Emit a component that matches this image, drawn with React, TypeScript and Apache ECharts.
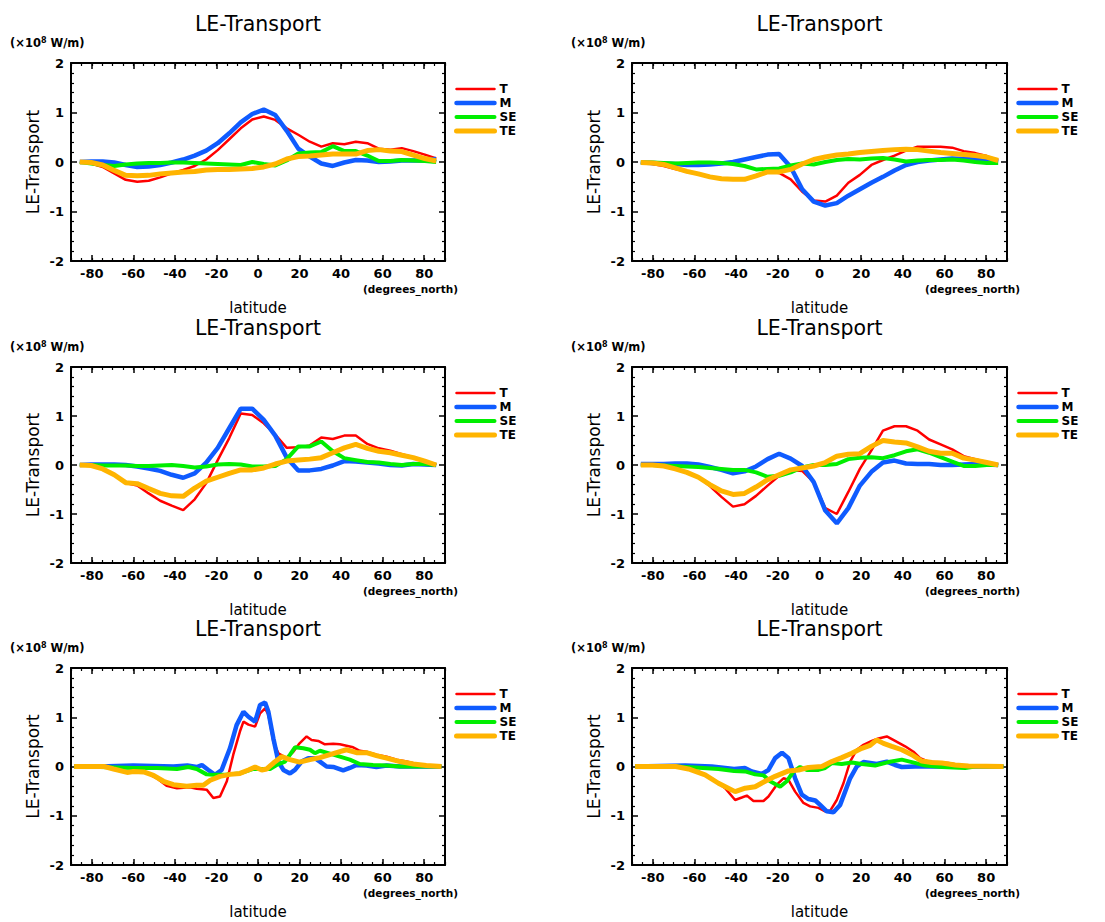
import React, { useEffect, useRef } from "react";
import * as echarts from "echarts";

// ---------- data ----------
const seriesNames = ["T", "M", "SE", "TE"];
const majorLat = [-80, -60, -40, -20, 0, 20, 40, 60, 80];
const titleText = "LE-Transport";

// Gaussian latitudes used by the four coarse panels
const lats = [-85.76, -80.27, -74.74, -69.21, -63.68, -58.14, -52.61, -47.07, -41.53, -36.0, -30.46, -24.92, -19.38, -13.84, -8.31, -2.77, 2.77, 8.31, 13.84, 19.38, 24.92, 30.46, 36.0, 41.53, 47.07, 52.61, 58.14, 63.68, 69.21, 74.74, 80.27, 85.76];

// panel 1 (top left)
const p1T = [0, -0.03, -0.1, -0.23, -0.36, -0.4, -0.38, -0.31, -0.23, -0.16, -0.08, 0.05, 0.24, 0.46, 0.68, 0.86, 0.92, 0.85, 0.68, 0.55, 0.41, 0.31, 0.38, 0.36, 0.41, 0.38, 0.27, 0.25, 0.28, 0.22, 0.15, 0.07];
const p1M = [0, 0.01, 0.01, -0.01, -0.06, -0.1, -0.09, -0.06, -0.01, 0.05, 0.13, 0.23, 0.38, 0.58, 0.8, 0.97, 1.06, 0.95, 0.63, 0.27, 0.11, -0.03, -0.08, -0.01, 0.04, 0.03, 0.0, 0.01, 0.03, 0.03, 0.03, 0.06];
const p1SE = [0, -0.03, -0.06, -0.08, -0.05, -0.03, -0.02, -0.02, -0.01, -0.01, -0.02, -0.03, -0.04, -0.05, -0.06, 0.0, -0.04, -0.07, 0.03, 0.17, 0.19, 0.2, 0.32, 0.22, 0.22, 0.13, 0.02, 0.02, 0.04, 0.03, 0.02, 0.0];
const p1TE = [0, -0.01, -0.06, -0.17, -0.27, -0.28, -0.27, -0.24, -0.22, -0.2, -0.19, -0.16, -0.15, -0.15, -0.14, -0.13, -0.1, -0.04, 0.06, 0.11, 0.12, 0.14, 0.16, 0.16, 0.16, 0.23, 0.25, 0.22, 0.21, 0.14, 0.07, 0.02];

// panel 2 (top right)
const p2T = [-0.01, -0.04, -0.08, -0.14, -0.2, -0.24, -0.3, -0.34, -0.35, -0.34, -0.27, -0.19, -0.22, -0.35, -0.6, -0.78, -0.8, -0.68, -0.42, -0.26, -0.06, 0.04, 0.13, 0.23, 0.31, 0.31, 0.31, 0.29, 0.22, 0.18, 0.12, 0.03];
const p2M = [-0.01, -0.02, -0.03, -0.04, -0.06, -0.06, -0.05, -0.03, 0.0, 0.05, 0.1, 0.15, 0.16, -0.1, -0.55, -0.8, -0.88, -0.83, -0.68, -0.55, -0.42, -0.3, -0.17, -0.06, 0.0, 0.03, 0.05, 0.07, 0.06, 0.05, 0.04, 0.0];
const p2SE = [-0.01, -0.01, -0.02, -0.03, -0.02, -0.01, -0.01, -0.02, -0.04, -0.08, -0.15, -0.14, -0.13, -0.07, -0.03, -0.05, 0.0, 0.04, 0.06, 0.05, 0.07, 0.08, 0.05, 0.01, 0.03, 0.04, 0.04, 0.05, 0.03, 0.0, -0.02, -0.02];
const p2TE = [-0.01, -0.02, -0.05, -0.12, -0.19, -0.24, -0.3, -0.34, -0.35, -0.35, -0.28, -0.2, -0.2, -0.15, -0.04, 0.05, 0.1, 0.14, 0.16, 0.19, 0.21, 0.23, 0.25, 0.26, 0.25, 0.22, 0.19, 0.17, 0.15, 0.13, 0.1, 0.03];

// panel 3 (middle left)
const p3T = [0, -0.02, -0.07, -0.2, -0.37, -0.42, -0.58, -0.73, -0.83, -0.92, -0.7, -0.37, 0.1, 0.55, 1.05, 1.02, 0.85, 0.62, 0.35, 0.36, 0.4, 0.56, 0.53, 0.6, 0.6, 0.43, 0.34, 0.29, 0.22, 0.16, 0.09, 0.0];
const p3M = [0, 0.01, 0.01, 0.01, 0.0, -0.03, -0.07, -0.12, -0.2, -0.26, -0.17, 0.05, 0.35, 0.75, 1.15, 1.15, 0.92, 0.6, 0.15, -0.11, -0.11, -0.08, -0.01, 0.08, 0.07, 0.05, 0.03, 0.0, -0.01, 0.02, 0.01, 0.0];
const p3SE = [0, 0, -0.01, -0.01, -0.01, -0.02, -0.02, -0.01, 0.0, -0.02, -0.05, -0.03, 0.01, 0.02, 0.01, -0.03, -0.03, -0.02, 0.12, 0.38, 0.38, 0.48, 0.28, 0.14, 0.1, 0.06, 0.05, 0.02, 0.0, 0.02, 0.02, 0.0];
const p3TE = [0, -0.01, -0.08, -0.2, -0.36, -0.38, -0.48, -0.58, -0.63, -0.64, -0.47, -0.33, -0.25, -0.17, -0.1, -0.1, -0.06, 0.02, 0.08, 0.1, 0.12, 0.15, 0.25, 0.35, 0.42, 0.34, 0.28, 0.25, 0.2, 0.15, 0.08, 0.0];

// panel 4 (middle right)
const p4T = [0, 0, -0.02, -0.07, -0.15, -0.25, -0.43, -0.65, -0.85, -0.8, -0.63, -0.42, -0.22, -0.1, -0.12, -0.35, -0.88, -1.0, -0.55, -0.08, 0.3, 0.7, 0.79, 0.79, 0.7, 0.52, 0.42, 0.32, 0.18, 0.12, 0.06, 0.0];
const p4M = [0.02, 0.02, 0.02, 0.03, 0.03, 0.01, -0.04, -0.1, -0.17, -0.13, -0.03, 0.12, 0.23, 0.13, -0.02, -0.35, -0.93, -1.19, -0.88, -0.42, -0.14, 0.05, 0.09, 0.03, 0.02, 0.02, 0.0, 0.0, 0.01, 0.02, 0.01, 0.0];
const p4SE = [0, 0, -0.01, -0.02, -0.03, -0.04, -0.06, -0.08, -0.1, -0.1, -0.15, -0.24, -0.22, -0.15, -0.05, 0.0, 0.0, 0.02, 0.12, 0.15, 0.16, 0.14, 0.2, 0.28, 0.32, 0.25, 0.16, 0.07, -0.02, -0.02, 0.0, 0.0];
const p4TE = [0, 0, -0.02, -0.08, -0.15, -0.25, -0.4, -0.53, -0.6, -0.58, -0.45, -0.3, -0.2, -0.1, -0.06, -0.02, 0.05, 0.18, 0.22, 0.23, 0.38, 0.5, 0.47, 0.45, 0.37, 0.28, 0.24, 0.24, 0.14, 0.1, 0.05, 0.0];

// panel 5 (bottom left) [latitude, value]
const p5T = [[-88.5, 0], [-76, 0], [-63, -0.1], [-55, -0.1], [-48.7, -0.24], [-44, -0.39], [-39, -0.44], [-32.7, -0.42], [-29.5, -0.45], [-24.7, -0.47], [-21.5, -0.64], [-18.3, -0.61], [-15, -0.3], [-11.9, 0.24], [-8.7, 0.71], [-7, 0.91], [-4.6, 0.85], [-1.4, 0.81], [1, 1.08], [3.4, 1.18], [5, 1.05], [7.4, 0.5], [9.8, 0.27], [13.8, 0.17], [17, 0.3], [20, 0.47], [23.4, 0.61], [25.8, 0.54], [29, 0.52], [32.2, 0.45], [36.2, 0.46], [39.4, 0.45], [42.6, 0.42], [45.8, 0.39], [49, 0.32], [52.2, 0.3], [57, 0.24], [61.9, 0.2], [66.7, 0.14], [71.5, 0.1], [76.3, 0.05], [81, 0.02], [88.3, 0]];
const p5M = [[-88.5, 0], [-76, 0], [-60, 0.02], [-40.7, 0], [-34, 0.02], [-29.5, -0.01], [-27, 0.03], [-23.9, -0.07], [-20.7, -0.17], [-17.5, -0.07], [-13.5, 0.37], [-10.3, 0.84], [-7, 1.11], [-4.6, 1.01], [-1.4, 0.91], [1, 1.25], [3.4, 1.3], [5, 1.11], [7.4, 0.57], [9.8, 0.1], [12.2, -0.07], [15.4, -0.14], [17.8, -0.07], [21, 0.1], [24.2, 0.17], [27.4, 0.17], [29.8, 0.1], [33, 0.0], [36.2, -0.01], [41, -0.08], [44.2, -0.03], [47.4, 0.03], [52.2, 0.02], [57, -0.01], [61.9, 0.02], [68.3, 0], [88.3, 0]];
const p5SE = [[-88.5, 0], [-76, -0.01], [-60, -0.03], [-48.7, -0.03], [-39, -0.05], [-33.5, -0.01], [-29.5, -0.05], [-24.7, -0.16], [-21.5, -0.17], [-15, -0.16], [-8.7, -0.14], [-2.2, -0.05], [2.6, -0.05], [5.8, -0.05], [9, 0.03], [13, 0.1], [15.4, 0.24], [17.8, 0.39], [21.8, 0.37], [25, 0.34], [27.4, 0.27], [29.8, 0.32], [33.8, 0.27], [39.4, 0.2], [44.2, 0.14], [49, 0.05], [55.4, 0.03], [61.9, 0.02], [68.3, 0], [88.3, 0]];
const p5TE = [[-88.5, 0], [-74, 0], [-69.5, -0.05], [-63, -0.12], [-60, -0.1], [-55, -0.11], [-50.3, -0.18], [-45.5, -0.3], [-40.7, -0.37], [-34.3, -0.4], [-29.5, -0.38], [-26.3, -0.38], [-23, -0.28], [-18.3, -0.2], [-13.5, -0.16], [-8.7, -0.14], [-4.6, -0.07], [-1.4, -0.01], [1.8, -0.07], [4.2, -0.05], [7.4, 0.07], [11.4, 0.2], [15.4, 0.14], [20, 0.09], [25, 0.14], [29.8, 0.18], [34.6, 0.24], [39.4, 0.3], [42.6, 0.34], [47.4, 0.28], [52.2, 0.28], [57, 0.22], [61.9, 0.17], [68.3, 0.1], [74.7, 0.05], [81, 0.02], [88.3, 0]];

// panel 6 (bottom right) [latitude, value]
const p6T = [[-88.5, 0], [-69, 0], [-62.9, -0.03], [-58, -0.1], [-51.7, -0.24], [-45.3, -0.44], [-40.5, -0.68], [-37.3, -0.63], [-34.9, -0.59], [-31.7, -0.7], [-26.9, -0.7], [-24.5, -0.61], [-20.5, -0.37], [-17.3, -0.24], [-14.9, -0.27], [-11.7, -0.51], [-7.7, -0.74], [-4.5, -0.81], [-0.5, -0.84], [2.7, -0.91], [5.1, -0.9], [8.3, -0.68], [11.5, -0.34], [14.7, 0.1], [17.9, 0.34], [21.1, 0.44], [25.1, 0.52], [28.3, 0.57], [32.3, 0.61], [36.3, 0.52], [41.1, 0.41], [45.1, 0.3], [48.3, 0.17], [52.3, 0.1], [57.1, 0.08], [61.9, 0.07], [68.3, 0.02], [74.7, 0], [88.3, 0]];
const p6M = [[-88.5, 0], [-64.5, 0.02], [-51.7, 0], [-41, -0.05], [-35.8, -0.03], [-32.5, -0.1], [-27.7, -0.15], [-24.5, -0.07], [-21.3, 0.17], [-18, 0.28], [-14.9, 0.17], [-11.7, -0.24], [-8.5, -0.57], [-5.3, -0.66], [-2, -0.69], [0.3, -0.78], [3.5, -0.91], [6.7, -0.93], [9.9, -0.78], [12.3, -0.51], [14.7, -0.24], [17.9, 0], [21.1, 0.09], [24.3, 0.07], [27.5, 0.05], [32.3, 0.1], [36.3, 0.03], [39.5, -0.01], [45.9, 0], [88.3, 0]];
const p6SE = [[-88.5, 0], [-69, 0], [-59.7, -0.02], [-48.5, -0.05], [-41, -0.09], [-35.7, -0.1], [-30.9, -0.16], [-26.9, -0.18], [-23.7, -0.3], [-18.9, -0.41], [-15.7, -0.3], [-12.5, -0.1], [-9.3, -0.01], [-6.1, -0.07], [-0.5, -0.07], [2.7, -0.03], [5.9, 0.07], [10.7, 0.05], [15.5, 0.08], [20.3, 0.05], [26.7, 0.02], [33.1, 0.09], [39.5, 0.14], [44.3, 0.09], [50.7, 0.02], [58.7, -0.01], [69.9, -0.03], [74.7, 0], [88.3, 0]];
const p6TE = [[-88.5, 0], [-69, 0], [-62.9, -0.05], [-54.9, -0.17], [-48.5, -0.34], [-40.5, -0.51], [-35.7, -0.44], [-30.9, -0.41], [-26.1, -0.3], [-21.3, -0.2], [-14.9, -0.09], [-10.1, -0.07], [-5.3, -0.02], [1.1, 0], [5.9, 0.1], [10.7, 0.18], [15.5, 0.27], [20.3, 0.37], [24.3, 0.43], [27.5, 0.54], [30.7, 0.47], [34.7, 0.41], [39.5, 0.34], [44.3, 0.24], [49.1, 0.11], [53.9, 0.08], [58.7, 0.07], [65.1, 0.03], [71.5, 0.01], [88.3, 0]];

// ---------- layout & style ----------
const pair = (vals: number[]) => vals.map((v, i) => [lats[i], v]);
const panelData = [
  [pair(p1T), pair(p1M), pair(p1SE), pair(p1TE)],
  [pair(p2T), pair(p2M), pair(p2SE), pair(p2TE)],
  [pair(p3T), pair(p3M), pair(p3SE), pair(p3TE)],
  [pair(p4T), pair(p4M), pair(p4SE), pair(p4TE)],
  [p5T, p5M, p5SE, p5TE],
  [p6T, p6M, p6SE, p6TE],
];

const GRIDS = [
  { left: 71, top: 63, width: 374, height: 198 },
  { left: 632, top: 63, width: 375, height: 198 },
  { left: 71, top: 367, width: 374, height: 196 },
  { left: 632, top: 367, width: 375, height: 196 },
  { left: 71, top: 668, width: 374, height: 197 },
  { left: 632, top: 668, width: 375, height: 197 },
];

const COLORS: Record<string, string> = { T: "#ff0000", M: "#0f5bff", SE: "#00ee00", TE: "#ffb400" };
const WIDTHS: Record<string, number> = { T: 2.5, M: 4.5, SE: 4, TE: 5 };
const FONT = "DejaVu Sans";
const BLACK = "#000";

function buildOption() {
  const grid: any[] = [];
  const xAxis: any[] = [];
  const yAxis: any[] = [];
  const series: any[] = [];
  const legend: any[] = [];
  const graphic: any[] = [];

  GRIDS.forEach((g, i) => {
    grid.push({ left: g.left, top: g.top, width: g.width, height: g.height, containLabel: false });
    const line = { show: true, onZero: false, lineStyle: { color: BLACK, width: 2 } };
    const noLine = { show: false, onZero: false };
    const majTick = { show: true, inside: true, length: 6, customValues: majorLat, lineStyle: { color: BLACK, width: 1.5 } };
    const minTick = { show: true, inside: true, length: 3, lineStyle: { color: BLACK, width: 1.2 } };
    const base = { gridIndex: i, type: "value", min: -90, max: 90, splitLine: { show: false } };
    xAxis.push({
      ...base,
      position: "bottom",
      axisLine: line,
      axisTick: majTick,
      axisLabel: { customValues: majorLat, margin: 6, color: BLACK, fontFamily: FONT, fontWeight: "bold", fontSize: 13 },
      name: "latitude",
      nameLocation: "middle",
      nameGap: 39,
      nameTextStyle: { fontFamily: FONT, fontSize: 15, color: BLACK },
    });
    xAxis.push({ ...base, interval: 5, position: "bottom", axisLine: noLine, axisTick: minTick, axisLabel: { show: false } });
    xAxis.push({ ...base, position: "top", axisLine: line, axisTick: majTick, axisLabel: { show: false } });
    xAxis.push({ ...base, interval: 5, position: "top", axisLine: noLine, axisTick: minTick, axisLabel: { show: false } });

    const ybase = {
      gridIndex: i,
      type: "value",
      min: -2,
      max: 2,
      interval: 1,
      axisLine: line,
      axisTick: { show: true, inside: true, length: 6, lineStyle: { color: BLACK, width: 1.5 } },
      minorTick: { show: true, splitNumber: 5, length: 3, lineStyle: { color: BLACK, width: 1.2 } },
      splitLine: { show: false },
      minorSplitLine: { show: false },
    };
    yAxis.push({
      ...ybase,
      position: "left",
      axisLabel: { margin: 7, color: BLACK, fontFamily: FONT, fontWeight: "bold", fontSize: 13 },
      name: "LE-Transport",
      nameLocation: "middle",
      nameGap: 30,
      nameTextStyle: { fontFamily: FONT, fontSize: 17, color: BLACK },
    });
    yAxis.push({ ...ybase, position: "right", axisLabel: { show: false } });

    seriesNames.forEach((name, k) => {
      series.push({
        name,
        type: "line",
        xAxisIndex: i * 4,
        yAxisIndex: i * 2,
        data: panelData[i][k],
        symbol: "none",
        showSymbol: false,
        z: 2 + k,
        lineStyle: { color: COLORS[name], width: WIDTHS[name] },
        itemStyle: { color: COLORS[name] },
      });
    });

    legend.push({
      orient: "vertical",
      left: g.left + g.width + 9,
      top: g.top + 19,
      padding: 0,
      itemWidth: 38,
      itemHeight: 14,
      itemGap: 0,
      selectedMode: false,
      data: seriesNames.map((n) => ({
        name: n,
        lineStyle: { color: COLORS[n], width: WIDTHS[n], cap: "round" },
        itemStyle: { opacity: 0, color: "rgba(0,0,0,0)", borderWidth: 0 },
      })),
      textStyle: { fontFamily: FONT, fontWeight: "bold", fontSize: 12, color: BLACK, lineHeight: 14 },
    });

    const cx = g.left + g.width / 2;
    graphic.push({
      type: "text",
      x: cx,
      y: g.top - 39,
      style: { text: titleText, fontFamily: FONT, fontSize: 20.5, fill: BLACK, align: "center", verticalAlign: "middle", textAlign: "center", textVerticalAlign: "middle" },
    });
    graphic.push({
      type: "text",
      x: g.left - 61,
      y: g.top - 20,
      style: {
        text: "{a|(×10}{s|8}{a| W/m)}",
        fill: BLACK,
        align: "left",
        verticalAlign: "middle",
        textAlign: "left",
        textVerticalAlign: "middle",
        rich: {
          a: { fontFamily: FONT, fontWeight: "bold", fontSize: 11.5, lineHeight: 14, fill: BLACK },
          s: { fontFamily: FONT, fontWeight: "bold", fontSize: 8, lineHeight: 9, verticalAlign: "top", fill: BLACK },
        },
      },
    });
    graphic.push({
      type: "text",
      x: g.left + g.width + 13,
      y: g.top + g.height + 28,
      style: { text: "(degrees_north)", fontFamily: FONT, fontWeight: "bold", fontSize: 10.5, fill: BLACK, align: "right", verticalAlign: "middle", textAlign: "right", textVerticalAlign: "middle" },
    });
  });

  return { animation: false, backgroundColor: "#fff", grid, xAxis, yAxis, series, legend, graphic };
}

export default function App() {
  const ref = useRef<HTMLDivElement>(null);
  useEffect(() => {
    if (!ref.current) return;
    const chart = echarts.init(ref.current, undefined, { renderer: "svg" });
    chart.setOption(buildOption() as any);
    return () => chart.dispose();
  }, []);
  return <div ref={ref} style={{ position: "absolute", left: 0, top: 0, width: 1105, height: 922 }} />;
}
